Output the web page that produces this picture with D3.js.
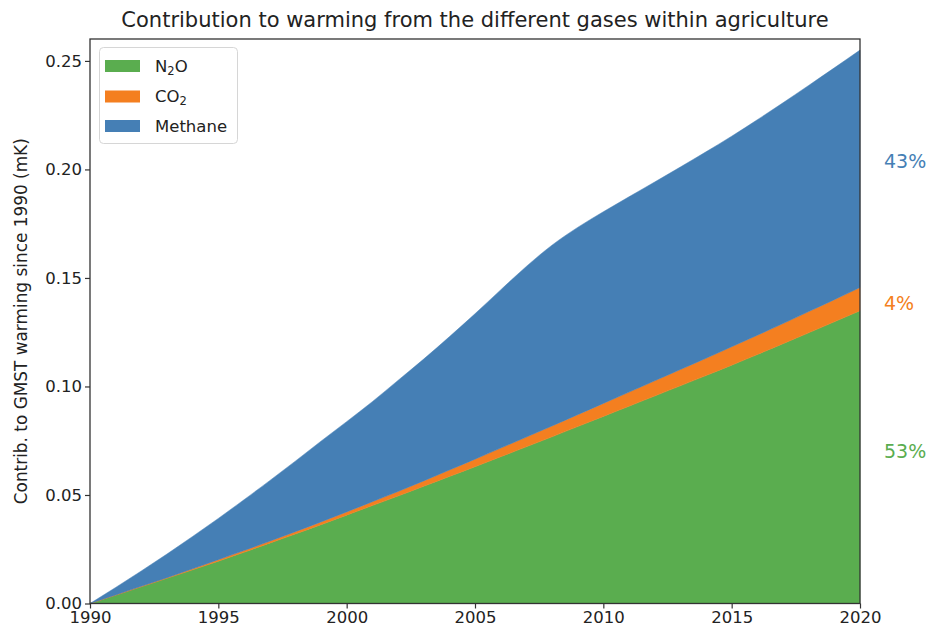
<!DOCTYPE html>
<html><head><meta charset="utf-8">
<script src="https://cdn.jsdelivr.net/npm/d3@7"></script>
<style>body{margin:0;background:#fff;} svg{display:block;font-family:"DejaVu Sans",sans-serif;}</style>
</head><body>
<svg id="chart" width="929" height="631"></svg>
<script>
const years = d3.range(1990, 2021);
const n2o = [0,.0038,.0077,.0116,.0155,.0195,.0236,.0278,.0320,.0363,.0407,.0451,.0495,.0540,.0585,.0630,.0676,.0722,.0768,.0815,.0862,.0909,.0956,.1003,.1050,.1098,.1147,.1197,.1247,.1298,.1349];
const co2 = [0,.0001,.0002,.0003,.0005,.0007,.0008,.0009,.0011,.0013,.0015,.0018,.0021,.0025,.0030,.0035,.0040,.0045,.0050,.0055,.0060,.0065,.0070,.0075,.0080,.0085,.0089,.0093,.0098,.0102,.0107];
const total = [0,.0074,.0150,.0228,.0309,.0392,.0478,.0566,.0656,.0748,.0838,.0930,.1028,.1126,.1229,.1335,.1445,.1553,.1651,.1733,.1805,.1874,.1942,.2011,.2081,.2153,.2229,.2307,.2387,.2468,.2550];
const methane = total.map((t,i)=>+(t - n2o[i] - co2[i]).toFixed(4));
const seriesNames = ["N2O","CO2","Methane"];
const colors = ["#5aad4f","#f47f20","#457fb5"];
const shareLabels = ["53%","4%","43%"];
const yTicks = [0,0.05,0.10,0.15,0.20,0.25];
const xTicks = [1990,1995,2000,2005,2010,2015,2020];
const title = "Contribution to warming from the different gases within agriculture";
const yLabel = "Contrib. to GMST warming since 1990 (mK)";

const svg = d3.select("#chart");
const L=90, R=860, T=39, B=603.5;
const x = d3.scaleLinear().domain([1990,2020]).range([L,R]);
const y = d3.scaleLinear().domain([0,0.2601]).range([B,T]);

const table = years.map((yr,i)=>({year:yr, N2O:n2o[i], CO2:co2[i], Methane:methane[i]}));
const stack = d3.stack().keys(seriesNames)(table);
const area = d3.area().x(d=>x(d.data.year)).y0(d=>y(d[0])).y1(d=>y(d[1])).curve(d3.curveMonotoneX);
svg.append("g").selectAll("path").data(stack).join("path")
  .attr("d",area).attr("fill",(d,i)=>colors[i]).attr("stroke",(d,i)=>colors[i]).attr("stroke-width",0.5);

// axes
const ya = svg.append("g").attr("transform",`translate(${L},0)`)
  .call(d3.axisLeft(y).tickValues(yTicks).tickFormat(d3.format(".2f")).tickSize(5).tickSizeOuter(0));
const xa = svg.append("g").attr("transform",`translate(0,${B})`)
  .call(d3.axisBottom(x).tickValues(xTicks).tickFormat(d3.format("d")).tickSize(5).tickSizeOuter(0));
[ya,xa].forEach(g=>{
  g.select(".domain").remove();
  g.selectAll("line").attr("stroke","#333").attr("stroke-width",1.2);
  g.selectAll("text").attr("font-size","16.5px").attr("fill","#222").attr("font-family","DejaVu Sans");
});
ya.selectAll("text").attr("x",-8);
xa.selectAll("text").attr("y",8);
// frame
svg.append("rect").attr("x",L).attr("y",T).attr("width",R-L).attr("height",B-T)
  .attr("fill","none").attr("stroke","#333").attr("stroke-width",1.3);

svg.append("text").attr("x",(L+R)/2).attr("y",27).attr("text-anchor","middle")
  .attr("font-size","21px").attr("fill","#222").text(title);
svg.append("text").attr("transform",`translate(27,${(T+B)/2}) rotate(-90)`).attr("text-anchor","middle")
  .attr("font-size","16.9px").attr("fill","#222").text(yLabel);

// share labels at right
const labelY = [451, 303, 161];
svg.append("g").selectAll("text").data(shareLabels).join("text")
  .attr("x",884).attr("y",(d,i)=>labelY[i]).attr("dy","0.35em")
  .attr("font-size","19px").attr("fill",(d,i)=>colors[i]).text(d=>d);

// legend
const lg = svg.append("g");
lg.append("rect").attr("x",99.5).attr("y",47.5).attr("width",138).attr("height",96).attr("rx",4)
  .attr("fill","#fff").attr("fill-opacity",0.8).attr("stroke","#d6d6d6");
const legendLabels = [["N","2","O"],["CO","2",""],["Methane","",""]];
const legendY = [66, 96.5, 126];
legendLabels.forEach((lab,i)=>{
  lg.append("rect").attr("x",105).attr("y",legendY[i]-6).attr("width",35).attr("height",12).attr("fill",colors[i]);
  const t = lg.append("text").attr("x",155).attr("y",legendY[i]).attr("dy","0.35em").attr("font-size","16.5px").attr("fill","#222");
  t.append("tspan").text(lab[0]);
  if(lab[1]) t.append("tspan").attr("font-size","11.5px").attr("dy","0.25em").text(lab[1]);
  if(lab[2]) t.append("tspan").attr("dy","-0.18em").text(lab[2]);
});
</script>
</body></html>
